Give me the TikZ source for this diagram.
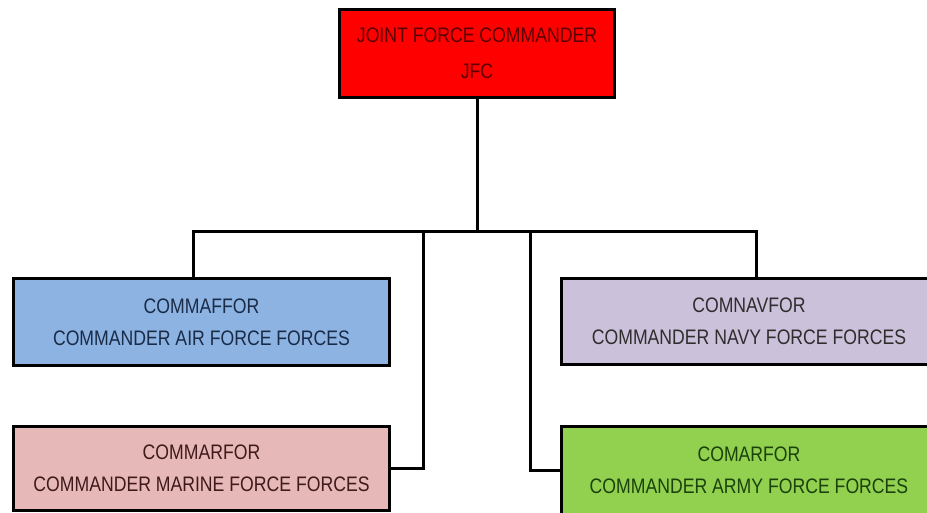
\documentclass[tikz,border=0pt]{standalone}
\usepackage{fontspec}
\setmainfont[FakeStretch=0.84]{Liberation Sans}
\definecolor{jfcfill}{HTML}{FF0000}
\definecolor{jfctext}{HTML}{5A0000}
\definecolor{affill}{HTML}{8DB3E2}
\definecolor{aftext}{HTML}{1A2B48}
\definecolor{navfill}{HTML}{CCC1DA}
\definecolor{navtext}{HTML}{2E2E2E}
\definecolor{marfill}{HTML}{E6B9B8}
\definecolor{martext}{HTML}{401A1A}
\definecolor{armyfill}{HTML}{92D050}
\definecolor{armytext}{HTML}{1A420A}
\tikzset{
  orgbox/.style={draw=black, line width=3pt, anchor=north west, align=center,
    inner sep=0pt, font=\fontsize{21}{32}\selectfont},
  link/.style={draw=black, line width=3pt}
}
\begin{document}
\begin{tikzpicture}[x=1pt,y=-1pt]
\useasboundingbox (0,0) rectangle (927,512);
\clip (0,0) rectangle (927,512);
\fill[white] (0,0) rectangle (927,512);
\node[orgbox, fill=jfcfill, text=jfctext, minimum width=275pt, minimum height=88pt,
  font=\fontsize{21}{36}\selectfont] (jfc) at (338,8) {JOINT FORCE COMMANDER\\JFC};
\node[orgbox, fill=affill, text=aftext, minimum width=376pt, minimum height=87pt] (af) at (12,277) {COMMAFFOR\\COMMANDER AIR FORCE FORCES};
\node[orgbox, fill=navfill, text=navtext, minimum width=375pt, minimum height=86pt] (nav) at (560,277) {COMNAVFOR\\COMMANDER NAVY FORCE FORCES};
\node[orgbox, fill=marfill, text=martext, minimum width=376pt, minimum height=84pt] (mar) at (12,425) {COMMARFOR\\COMMANDER MARINE FORCE FORCES};
\node[orgbox, fill=armyfill, text=armytext, minimum width=375pt, minimum height=88pt] (army) at (560,425) {COMARFOR\\COMMANDER ARMY FORCE FORCES};
\coordinate (busL) at (193,231);
\coordinate (busR) at (756,231);
\coordinate (mL) at (423,231);
\coordinate (mR) at (530,231);
\draw[link] (jfc.south) -- (jfc.south |- busL);
\draw[link] (busL |- af.north) -- (busL) -- (busR) -- (busR |- nav.north);
\draw[link] (mL) |- (mar.east);
\draw[link] (mR) |- (army.west);
\end{tikzpicture}
\end{document}
